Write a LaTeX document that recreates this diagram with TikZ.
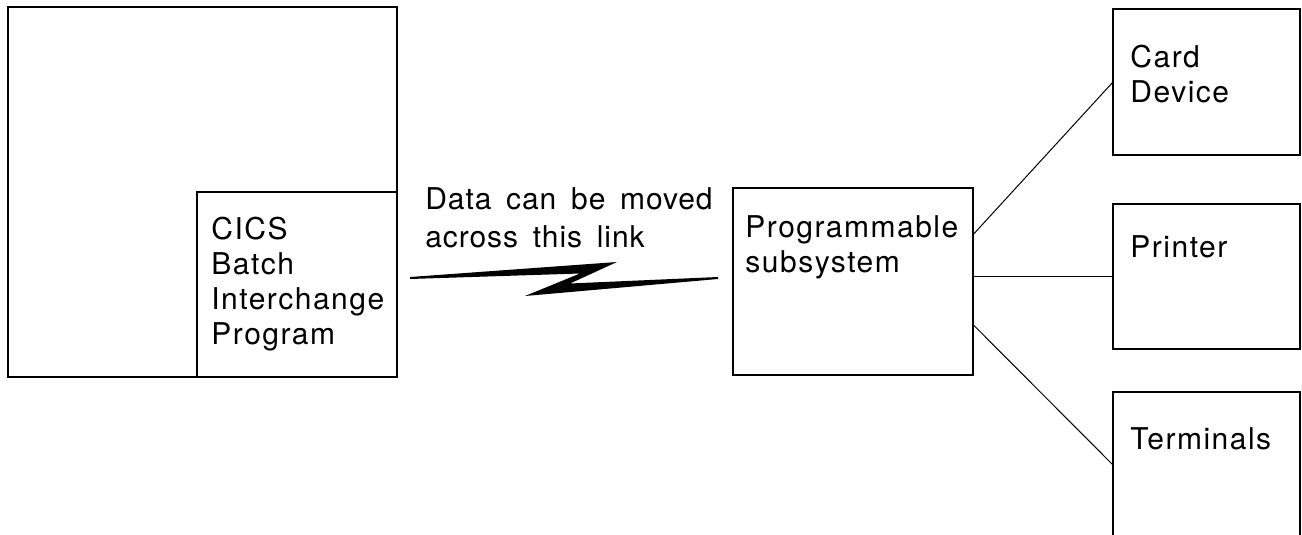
\documentclass[tikz,border=0pt]{standalone}
\usepackage{fontspec}
\setmainfont{TeX Gyre Heros}
\newfontfamily\boxfont[LetterSpace=5]{TeX Gyre Heros}
\newfontfamily\linkfont[LetterSpace=3,WordSpace=1.6]{TeX Gyre Heros}
\usetikzlibrary{positioning, calc}

\begin{document}
\begin{tikzpicture}[x=0.5pt, y=-0.5pt,
    unit/.style={draw, line width=0.7pt, rectangle, anchor=north west, inner sep=0pt, outer sep=0pt},
    lbl/.style={anchor=north west, align=left, inner sep=0pt, font=\boxfont\fontsize{15}{17.5}\selectfont},
    wire/.style={line width=0.5pt}]
    \clip (0,0) rectangle (1302,535);

    % host side
    \node (host) [unit, minimum width=194.5pt, minimum height=185pt] at (8,7) {};
    \node (bip) [unit, minimum width=100pt, minimum height=92.5pt] at (197,192) {};
    \node (biptext) [lbl] at (211,217) {CICS\\Batch\\Interchange\\Program};

    % the link
    \node (linktext) [anchor=north west, align=left, inner sep=0pt, font=\linkfont\fontsize{15}{19}\selectfont] at (425,187) {Data can be moved\\across this link};
    \fill (410,277) -- (617,262) -- (570,283.5) -- (718,277) -- (718,279) -- (525,296) -- (580,273.5) -- (410,279) -- cycle;

    % subsystem and devices
    \node (sub) [unit, minimum width=120pt, minimum height=93.5pt] at (733,188) {};
    \node (subtext) [lbl] at (745,215) {Programmable\\subsystem};
    \node (card) [unit, minimum width=93.5pt, minimum height=73pt] at (1113,9) {};
    \node (cardtext) [lbl] at (1130,45) {Card\\Device};
    \node (printer) [unit, minimum width=93.5pt, minimum height=72.5pt] at (1113,204) {};
    \node (printertext) [lbl] at (1130,235) {Printer};
    \node (term) [unit, minimum width=93.5pt, minimum height=73pt] at (1113,392) {};
    \node (termtext) [lbl] at (1130,427) {Terminals};

    \draw [wire] ($(sub.north east)!0.25!(sub.south east)$) -- (card.west);
    \draw [wire] (printer.west -| sub.east) -- (printer.west);
    \draw [wire] ($(sub.north east)!0.73!(sub.south east)$) -- (term.west);
\end{tikzpicture}
\end{document}
